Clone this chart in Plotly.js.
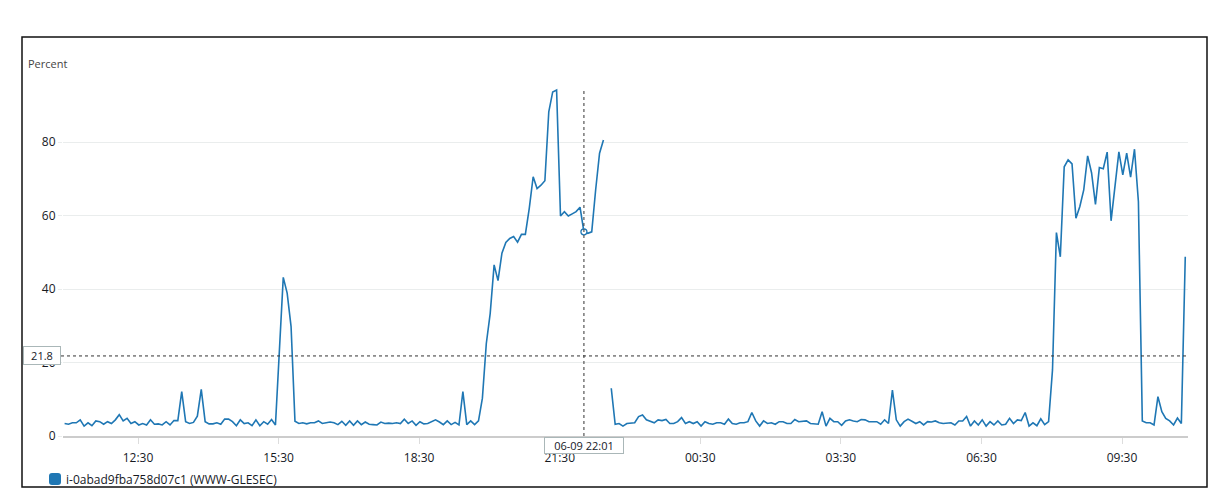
<!DOCTYPE html>
<html><head><meta charset="utf-8">
<script src="https://cdn.plot.ly/plotly-3.0.1.min.js"></script>
<style>html,body{margin:0;padding:0;background:#fff}#chart{width:1231px;height:500px}</style>
</head><body><div id="chart"></div><script>
// ---- data ----
const seriesName = 'i-0abad9fba758d07c1 (WWW-GLESEC)';
const yAxisLabel = 'Percent';
const startDate = '2021-06-09';
const startMinuteOfDay = 10 * 60 + 56; // first sample at 10:56
const periodMinutes = 5;
const cpuPercent = [
  3.4, 3.2, 3.6, 3.6, 4.4, 2.7, 3.6, 2.8, 4.1, 3.9,
  3.2, 3.9, 3.4, 4.4, 5.8, 4.1, 4.8, 3.4, 3.9, 3.0,
  3.4, 3.0, 4.4, 3.2, 3.3, 3.0, 3.9, 3.0, 4.2, 4.2,
  12.1, 3.9, 3.4, 3.7, 5.4, 12.7, 3.9, 3.3, 3.3, 3.6,
  3.2, 4.6, 4.6, 3.9, 2.8, 4.4, 3.4, 3.6, 2.8, 4.4,
  2.8, 3.9, 3.2, 4.5, 3.0, 23.0, 43.2, 38.9, 29.8, 4.0,
  3.4, 3.6, 3.3, 3.6, 3.6, 4.1, 3.4, 3.6, 3.8, 3.6,
  3.1, 4.0, 2.9, 4.1, 2.9, 4.1, 3.1, 3.8, 3.2, 3.1,
  3.0, 3.8, 3.4, 3.5, 3.4, 3.6, 3.4, 4.6, 3.4, 4.1,
  2.9, 3.9, 3.3, 3.4, 3.9, 4.4, 3.8, 3.1, 4.1, 3.1,
  3.7, 3.0, 12.1, 3.1, 4.1, 3.1, 4.1, 10.3, 25.2, 33.4,
  46.6, 42.3, 49.8, 52.7, 53.8, 54.3, 52.8, 54.9, 54.9, 62.0,
  70.6, 67.4, 68.3, 69.5, 88.3, 93.7, 94.2, 59.9, 61.1, 59.9,
  60.5, 61.1, 62.3, 55.6, 55.2, 55.6, 67.0, 77.0, 80.6, null,
  13.0, 3.2, 3.4, 2.7, 3.4, 3.6, 3.6, 5.3, 5.7, 4.4,
  4.1, 3.6, 4.4, 4.2, 4.5, 3.4, 3.4, 3.9, 5.0, 3.4,
  3.9, 3.4, 3.9, 2.7, 3.9, 3.4, 3.2, 3.6, 3.6, 3.2,
  4.6, 3.4, 3.2, 3.6, 3.6, 3.9, 6.4, 4.1, 2.7, 4.1,
  3.4, 3.6, 3.2, 3.9, 3.9, 3.4, 3.4, 4.5, 3.9, 3.9,
  4.1, 3.4, 3.2, 3.2, 6.6, 2.7, 4.8, 3.9, 3.9, 2.9,
  4.1, 4.4, 4.1, 3.9, 4.5, 4.4, 3.9, 3.9, 3.9, 3.2,
  4.4, 3.4, 12.5, 4.4, 2.7, 3.9, 4.6, 4.0, 3.4, 3.9,
  3.0, 3.9, 3.8, 4.1, 3.6, 3.4, 3.4, 3.6, 3.0, 4.1,
  4.1, 5.3, 2.7, 4.1, 3.0, 4.4, 2.7, 3.9, 3.0, 4.1,
  3.0, 3.2, 4.8, 3.4, 4.4, 4.2, 6.4, 2.7, 3.6, 2.8,
  4.7, 3.1, 3.9, 18.0, 55.4, 48.8, 73.3, 75.2, 74.1, 59.3,
  62.5, 67.0, 76.3, 71.7, 63.1, 73.1, 72.8, 77.3, 58.6, 67.9,
  77.4, 71.1, 77.0, 70.5, 78.1, 63.8, 4.1, 3.6, 3.6, 3.0,
  10.7, 6.6, 4.8, 4.1, 3.0, 4.9, 3.4, 48.8
];
const tickValues = ['2021-06-09 12:30', '2021-06-09 15:30', '2021-06-09 18:30', '2021-06-09 21:30',
                    '2021-06-10 00:30', '2021-06-10 03:30', '2021-06-10 06:30', '2021-06-10 09:30'];
const tickLabels = ['12:30', '15:30', '18:30', '21:30', '00:30', '03:30', '06:30', '09:30'];
const yTickValues = [0, 20, 40, 60, 80];
const xRange = ['2021-06-09 10:53:58', '2021-06-10 10:54:30'];
const yRange = [0, 95.86];
const crosshairIndex = 133;        // 06-09 22:01
const crosshairLabel = '06-09 22:01';
const crosshairValue = 21.8;

// ---- build timestamps ----
function pad(n) { return (n < 10 ? '0' : '') + n; }
function stamp(i) {
  const m = startMinuteOfDay + periodMinutes * i;
  const day = 9 + Math.floor(m / 1440);
  const mm = m % 1440;
  return '2021-06-' + pad(day) + ' ' + pad(Math.floor(mm / 60)) + ':' + pad(mm % 60);
}
const times = cpuPercent.map((_, i) => stamp(i));

const blue = '#1f77b4';
const font = 'Open Sans, Noto Sans, sans-serif';

const traces = [
  { x: times, y: cpuPercent, type: 'scatter', mode: 'lines', connectgaps: false, name: seriesName,
    line: { color: blue, width: 1.6 }, showlegend: false, hoverinfo: 'skip' },
  { x: [times[crosshairIndex]], y: [cpuPercent[crosshairIndex]], type: 'scatter', mode: 'markers',
    marker: { symbol: 'circle', size: 6, color: '#ffffff', line: { color: blue, width: 1.3 } },
    showlegend: false, hoverinfo: 'skip' }
];

const W = 1125, H = 352, L = 63, T = 84;
function px(p) { return (p - L) / W; }
function py(p) { return (T + H - p) / H; }

// rounded legend swatch (paper coords)
function roundedRect(x0, y0, x1, y1, r) {
  const X = v => px(v), Y = v => py(v);
  return 'M' + X(x0 + r) + ',' + Y(y0) + ' L' + X(x1 - r) + ',' + Y(y0) +
    ' Q' + X(x1) + ',' + Y(y0) + ' ' + X(x1) + ',' + Y(y0 + r) +
    ' L' + X(x1) + ',' + Y(y1 - r) + ' Q' + X(x1) + ',' + Y(y1) + ' ' + X(x1 - r) + ',' + Y(y1) +
    ' L' + X(x0 + r) + ',' + Y(y1) + ' Q' + X(x0) + ',' + Y(y1) + ' ' + X(x0) + ',' + Y(y1 - r) +
    ' L' + X(x0) + ',' + Y(y0 + r) + ' Q' + X(x0) + ',' + Y(y0) + ' ' + X(x0 + r) + ',' + Y(y0) + ' Z';
}

const layout = {
  width: 1231, height: 500,
  margin: { l: L, r: 43, t: T, b: 64, pad: 0 },
  paper_bgcolor: '#ffffff', plot_bgcolor: '#ffffff',
  font: { family: font, size: 12, color: '#16191f' },
  hovermode: false, showlegend: false,
  xaxis: {
    type: 'date', range: xRange, tickmode: 'array', tickvals: tickValues, ticktext: tickLabels,
    showgrid: false, zeroline: false, showline: true, linecolor: '#cccccc', linewidth: 2,
    ticks: 'outside', ticklen: 6, tickwidth: 1, tickcolor: '#dddddd', ticklabelstandoff: 4,
    tickfont: { family: font, size: 12, color: '#16191f' }
  },
  yaxis: {
    range: yRange, tickmode: 'array', tickvals: yTickValues,
    showgrid: true, gridcolor: '#eaeded', gridwidth: 1, zeroline: false, showline: false,
    ticks: 'outside', ticklen: 4, tickcolor: '#eaeded',
    tickfont: { family: font, size: 12, color: '#16191f' }
  },
  shapes: [
    { type: 'rect', xref: 'paper', yref: 'paper', x0: px(22), x1: px(1207), y0: py(487), y1: py(37),
      line: { color: '#111111', width: 1.5 }, fillcolor: 'rgba(0,0,0,0)', layer: 'above' },
    { type: 'line', xref: 'paper', yref: 'y', x0: px(61), x1: 1, y0: crosshairValue, y1: crosshairValue,
      line: { color: '#333333', width: 1, dash: 'dot' } },
    { type: 'line', xref: 'x', yref: 'paper', x0: times[crosshairIndex], x1: times[crosshairIndex], y0: 0, y1: py(89),
      line: { color: '#333333', width: 1, dash: 'dot' } },
    { type: 'path', xref: 'paper', yref: 'paper', path: roundedRect(49, 473, 61, 485, 3),
      fillcolor: blue, line: { width: 0 } }
  ],
  annotations: [
    { text: yAxisLabel, xref: 'paper', yref: 'paper', x: px(26), y: py(63), xanchor: 'left', yanchor: 'middle',
      showarrow: false, font: { family: font, size: 11, color: '#444444' } },
    { text: String(crosshairValue), xref: 'paper', yref: 'y', x: px(42), y: crosshairValue, xanchor: 'center', yanchor: 'middle',
      showarrow: false, bgcolor: '#ffffff', bordercolor: '#aab7b8', borderwidth: 1, borderpad: 1, width: 34,
      font: { family: font, size: 11, color: '#16191f' } },
    { text: crosshairLabel, xref: 'x', yref: 'paper', x: times[crosshairIndex], y: py(445), xanchor: 'center', yanchor: 'middle',
      showarrow: false, bgcolor: '#ffffff', bordercolor: '#aab7b8', borderwidth: 1, borderpad: 0, width: 78,
      font: { family: font, size: 11, color: '#16191f' } },
    { text: seriesName, xref: 'paper', yref: 'paper', x: px(64), y: py(479), xanchor: 'left', yanchor: 'middle',
      showarrow: false, font: { family: font, size: 12, color: '#16191f' } }
  ]
};

Plotly.newPlot('chart', traces, layout, { displayModeBar: false, staticPlot: true });
</script></body></html>
